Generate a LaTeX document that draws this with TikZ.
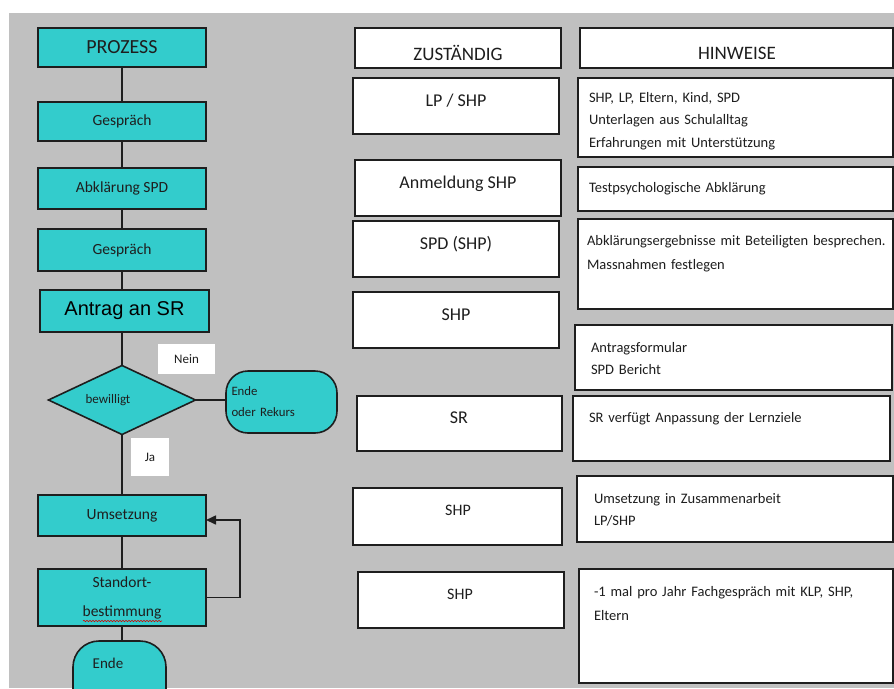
\documentclass[tikz,border=0pt]{standalone}
\usepackage{fontspec}
\setmainfont{Carlito}
\newfontfamily\arialfont{Liberation Sans}
\usetikzlibrary{shapes.geometric,arrows.meta,decorations.pathmorphing}

\definecolor{flowteal}{RGB}{51,204,204}
\definecolor{panelgray}{RGB}{192,192,192}
\definecolor{ink}{RGB}{30,30,30}

% font size / line spacing in one go
\newcommand\fsz[2]{\fontsize{#1}{#2}\selectfont}

\tikzset{
  every node/.style={inner sep=0pt, outer sep=0pt, text=ink},
  procbox/.style={rectangle, draw=ink, line width=1.6, fill=flowteal,
    minimum width=168, font=\fsz{15.5}{29}},
  termbox/.style={rectangle, rounded corners=22, draw=ink, line width=1.6,
    fill=flowteal},
  flagbox/.style={rectangle, fill=white, font=\fsz{13}{15}},
  cellbox/.style={rectangle, draw=ink, line width=1.8, fill=white},
  celltext/.style={anchor=base, font=\fsz{18}{22}},
  notetext/.style={anchor=base west, text width=330, align=left,
    font=\fsz{14.5}{22.5}},
  conn/.style={draw=ink, line width=1.6},
  loopback/.style={conn, -{Triangle[length=10pt,width=9pt]}},
}

\begin{document}
\begin{tikzpicture}[x=1pt,y=-1pt]
\useasboundingbox (0,0) rectangle (894,688);
\fill[white] (0,0) rectangle (894,688);
\fill[panelgray] (9,13) rectangle (894,688);

% ---------------- process column ----------------
\node[procbox, minimum height=39, font=\fsz{20}{24}] (prozess) at (122,47.5) {PROZESS};
\node[procbox, minimum height=39] (g1) at (122,121.5) {Gespräch};
\node[procbox, minimum height=41] (abk) at (122,188.5) {Abklärung SPD};
\node[procbox, minimum height=42] (g2) at (122,250) {Gespräch};
\node[procbox, minimum width=169, minimum height=42,
      font=\arialfont\fsz{20}{24}, text=black] (antrag) at (124.5,311) {Antrag an SR};

\node[diamond, draw=ink, line width=1.6, fill=flowteal,
      minimum width=147, minimum height=69] (dec) at (122,400) {};
\node[font=\fsz{13}{15}] (dectext) at (108,400) {bewilligt};

\node[flagbox, minimum width=57, minimum height=30] (nein) at (186.5,359) {Nein};
\node[termbox, minimum width=111, minimum height=62, text width=100,
      align=left, font=\fsz{12.8}{21}] (rekurs) at (281.5,402) {Ende\\oder Rekurs};
\node[flagbox, minimum width=38, minimum height=38] (ja) at (150,457) {Ja};

\node[procbox, minimum height=41] (umsetz) at (122,515.5) {Umsetzung};
\node[procbox, minimum height=57, align=center] (standort) at (122,597.5) {Standort-\\bestimmung};
\draw[red!85!black, line width=0.6, decorate,
      decoration={snake, amplitude=0.7pt, segment length=3pt}] (83,621) -- (162,621);

\node[termbox, rounded corners=26, minimum width=93, minimum height=80] (ende) at (119.5,681) {};
\node[font=\fsz{15}{18}] (endetext) at (108,663) {Ende};

% connectors
\draw[conn] (prozess) -- (g1);
\draw[conn] (g1) -- (abk);
\draw[conn] (abk) -- (g2);
\draw[conn] (g2.south) -- (g2.south |- antrag.north);
\draw[conn] (antrag.south -| dec.north) -- (dec.north);
\draw[conn] (dec.east) -- (dec.east -| rekurs.west);
\draw[conn] (dec.south) -- (umsetz.north);
\draw[conn] (umsetz) -- (standort);
\draw[conn] (standort.south) -- (standort.south |- ende.north);
\draw[loopback] (standort.east) -- ++(34,0) |- ([yshift=-4.5pt]umsetz.east);

% ---------------- responsibility column ----------------
\node[cellbox, minimum width=206, minimum height=40] (z0) at (458,48) {};
\node[cellbox, minimum width=206, minimum height=56] (z1) at (456,106) {};
\node[cellbox, minimum width=206, minimum height=56] (z2) at (458,188) {};
\node[cellbox, minimum width=206, minimum height=56] (z3) at (456,249) {};
\node[cellbox, minimum width=206, minimum height=56] (z4) at (456,320) {};
\node[cellbox, minimum width=205, minimum height=55] (z5) at (459.5,423.5) {};
\node[cellbox, minimum width=209, minimum height=57] (z6) at (457.5,516.5) {};
\node[cellbox, minimum width=206, minimum height=56] (z7) at (461,600) {};

\node[celltext, font=\fsz{19}{22}] (z0t) at (458,60) {ZUSTÄNDIG};
\node[celltext] (z1t) at (456,106) {LP / SHP};
\node[celltext] (z2t) at (458,188) {Anmeldung SHP};
\node[celltext] (z3t) at (456,249) {SPD (SHP)};
\node[celltext] (z4t) at (456,320) {SHP};
\node[celltext] (z5t) at (459,423) {SR};
\node[celltext, font=\fsz{16}{20}] (z6t) at (458,515) {SHP};
\node[celltext, font=\fsz{16}{20}] (z7t) at (460,599) {SHP};

% ---------------- notes column ----------------
\node[cellbox, minimum width=313, minimum height=40] (h0) at (736.5,48) {};
\node[cellbox, minimum width=315, minimum height=79] (h1) at (735.5,117.5) {};
\node[cellbox, minimum width=315, minimum height=44] (h2) at (735.5,189) {};
\node[cellbox, minimum width=315, minimum height=90] (h3) at (735.5,264) {};
\node[cellbox, minimum width=317, minimum height=65] (h4) at (733.5,357.5) {};
\node[cellbox, minimum width=317, minimum height=65] (h5) at (731.5,428.5) {};
\node[cellbox, minimum width=316, minimum height=66] (h6) at (735,509) {};
\node[cellbox, minimum width=314, minimum height=114] (h7) at (736,626) {};

\node[celltext, font=\fsz{19}{22}] (h0t) at (737,59) {HINWEISE};
\node[notetext] (h1t) at (589,102) {SHP, LP, Eltern, Kind, SPD\\Unterlagen aus Schulalltag\\Erfahrungen mit Unterstützung};
\node[notetext] (h2t) at (589,192) {Testpsychologische Abklärung};
\node[notetext, font=\fsz{14.5}{24}] (h3t) at (587,245) {Abklärungsergebnisse mit Beteiligten besprechen.\\Massnahmen festlegen};
\node[notetext] (h4t) at (591,352) {Antragsformular\\SPD Bericht};
\node[notetext] (h5t) at (589,422) {SR verfügt Anpassung der Lernziele};
\node[notetext, font=\fsz{14.5}{22}] (h6t) at (594,503) {Umsetzung in Zusammenarbeit\\LP/SHP};
\node[notetext, font=\fsz{14.5}{24}] (h7t) at (594,596) {-1 mal pro Jahr Fachgespräch mit KLP, SHP,\\Eltern};
\end{tikzpicture}
\end{document}
